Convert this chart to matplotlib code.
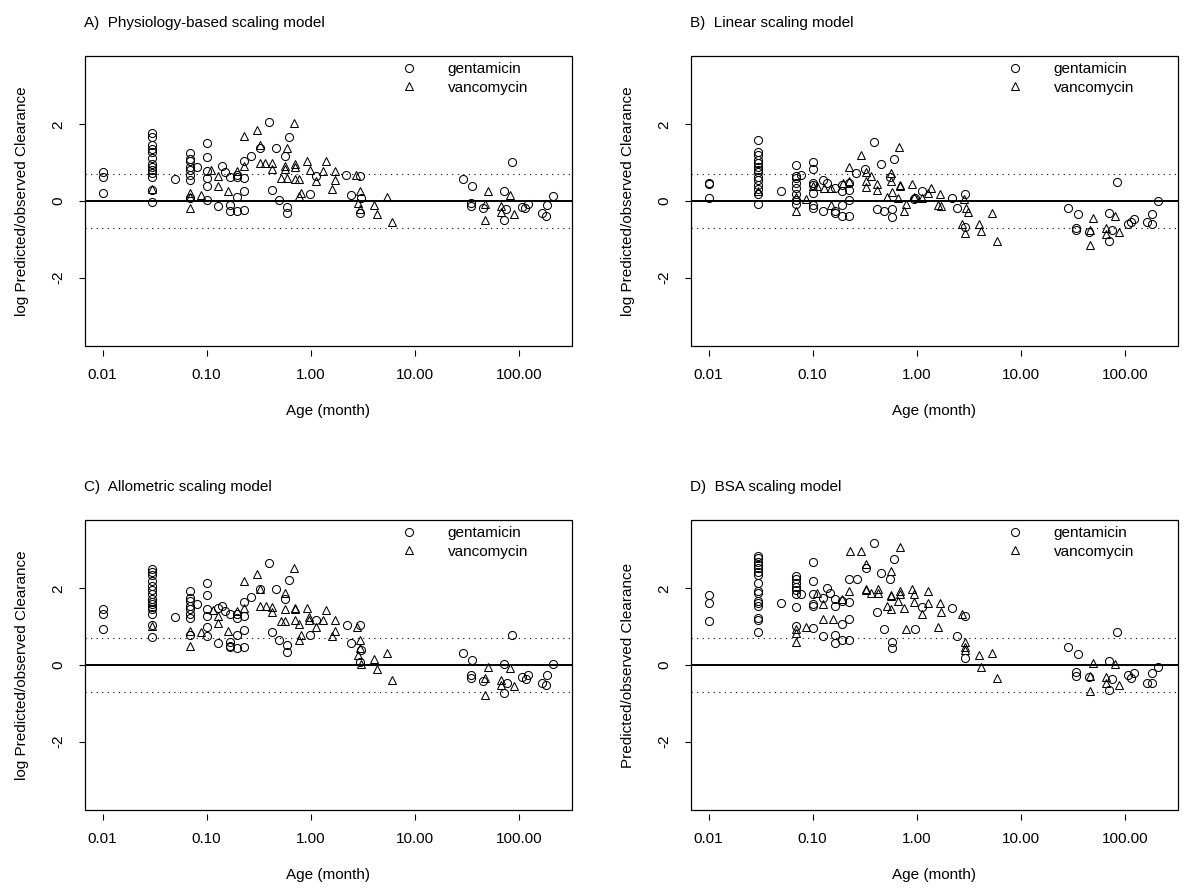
import numpy as np
import matplotlib
matplotlib.use("Agg")
import matplotlib.pyplot as plt
from matplotlib.patches import Rectangle

plt.rcParams['font.family'] = ['Liberation Sans', 'DejaVu Sans']
plt.rcParams['font.size'] = 11

# values: age in months, (log) predicted/observed clearance

# A) physiology-based
a_gen_age = [0.01, 0.01, 0.01,
             0.03, 0.03, 0.03, 0.03, 0.03, 0.03, 0.03, 0.03, 0.03, 0.03, 0.03, 0.03, 0.03,
             0.05,
             0.069, 0.069, 0.069, 0.069, 0.069, 0.069, 0.069, 0.069,
             0.08,
             0.1, 0.1, 0.1, 0.1, 0.1, 0.1,
             0.129, 0.139, 0.15, 0.169, 0.169, 0.169, 0.196, 0.196, 0.196, 0.196,
             0.228, 0.228, 0.228, 0.228, 0.269, 0.324, 0.394, 0.425, 0.468, 0.495, 0.57,
             0.591, 0.591, 0.614, 0.99, 1.13,
             2.19, 2.94, 2.45, 3.05, 2.94, 28.9, 35.5, 34.7, 34.7, 44.9, 71.3, 72.4, 75.1,
             85.1, 107, 115, 123, 165, 182, 185, 214]
a_gen_val = [0.75, 0.62, 0.20,
             1.78, 1.68, 1.47, 1.36, 1.29, 1.12, 0.97, 0.89, 0.82, 0.73, 0.62, 0.29, -0.02,
             0.57,
             1.25, 1.10, 1.03, 0.89, 0.82, 0.68, 0.55, 0.07,
             0.89,
             1.50, 1.14, 0.79, 0.60, 0.38, 0.03,
             -0.13, 0.90, 0.75, 0.62, -0.11, -0.25, 0.68, 0.62, 0.11, -0.25,
             1.05, 0.61, 0.25, -0.24, 1.17, 1.39, 2.07, 0.29, 1.37, 0.03, 1.17,
             -0.15, -0.32, 1.67, 0.18, 0.66,
             0.68, 0.66, 0.16, 0.07, -0.32, 0.57, 0.38, -0.06, -0.13, -0.17, 0.26, -0.50, -0.22,
             1.01, -0.15, -0.19, -0.09, -0.32, -0.39, -0.11, 0.13]
a_van_age = [0.03, 0.069, 0.069, 0.069, 0.089, 0.111, 0.129, 0.129, 0.161, 0.196, 0.228, 0.229,
             0.301, 0.324, 0.324, 0.361, 0.425, 0.425, 0.523, 0.57, 0.57, 0.591, 0.591, 0.69,
             0.701, 0.701, 0.701, 0.771, 0.771, 0.80, 0.927, 0.977, 1.13, 1.31, 1.41, 1.61, 1.72, 1.72,
             2.74, 2.99, 2.84, 2.99, 4.04, 4.35, 5.42, 6.05, 46.6, 46.6, 50.1, 67.3, 67.3, 82.0, 90.2]
a_van_val = [0.32, 0.22, 0.10, -0.19, 0.16, 0.82, 0.66, 0.40, 0.26, 0.77, 0.92, 1.69,
             1.84, 1.47, 0.99, 0.99, 0.99, 0.84, 0.60, 0.92, 0.83, 1.39, 0.60, 2.04,
             0.97, 0.89, 0.57, 0.57, 0.13, 0.22, 1.05, 0.82, 0.51, 0.79, 1.04, 0.32, 0.79, 0.55,
             0.68, 0.27, -0.04, -0.21, -0.11, -0.35, 0.11, -0.54, -0.08, -0.50, 0.25, -0.13, -0.28, 0.16, -0.34]

# B) linear
b_gen_age = [0.01, 0.01, 0.01,
             0.03, 0.03, 0.03, 0.03, 0.03, 0.03, 0.03, 0.03, 0.03, 0.03, 0.03, 0.03, 0.03, 0.03,
             0.05,
             0.069, 0.069, 0.069, 0.069, 0.069, 0.069, 0.069, 0.069,
             0.078,
             0.1, 0.1, 0.1, 0.1, 0.1, 0.1, 0.1,
             0.126, 0.126, 0.136, 0.163, 0.163, 0.163, 0.193, 0.193, 0.193, 0.193,
             0.224, 0.224, 0.224, 0.224, 0.259, 0.316, 0.389, 0.418, 0.457, 0.485, 0.55,
             0.578, 0.578, 0.605, 0.94, 0.965, 1.13,
             2.18, 2.43, 2.92, 2.88, 28.2, 35.2, 34.0, 34.0, 44.6, 69.8, 75.1, 70.8, 83.9,
             106, 114, 121, 163, 180, 182, 209]
b_gen_val = [0.46, 0.44, 0.09,
             1.59, 1.27, 1.19, 1.08, 0.99, 0.89, 0.82, 0.76, 0.62, 0.54, 0.43, 0.31, 0.18, -0.08,
             0.27,
             0.95, 0.66, 0.60, 0.46, 0.33, 0.18, 0.03, -0.09,
             0.68,
             1.01, 0.83, 0.48, 0.42, 0.20, -0.11, -0.17,
             0.55, -0.25, 0.46, 0.35, -0.25, -0.32, 0.42, 0.25, -0.11, -0.39,
             0.48, 0.29, 0.03, -0.39, 0.73, 0.84, 1.54, -0.22, 0.97, -0.25, 0.62,
             -0.22, -0.41, 1.10, 0.04, 0.09, 0.25,
             0.09, -0.19, 0.18, -0.68, -0.19, -0.35, -0.70, -0.75, -0.81, -0.32, -0.76, -1.04, 0.49,
             -0.59, -0.54, -0.47, -0.54, -0.59, -0.34, 0.01]
b_van_age = [0.03, 0.069, 0.069, 0.087, 0.1, 0.109, 0.128, 0.151, 0.151, 0.195, 0.224, 0.224,
             0.294, 0.324, 0.324, 0.324, 0.366, 0.416, 0.416, 0.518, 0.57, 0.57, 0.582, 0.661,
             0.676, 0.686, 0.686, 0.755, 0.794, 0.906, 0.94, 1.28,
             1.11, 1.38, 1.68, 1.60, 1.72, 2.82, 2.99, 3.10, 2.74, 2.92, 3.95, 4.16, 5.27, 5.93,
             46.2, 49.0, 45.6, 64.9, 65.8, 80.9, 88.3]
b_van_val = [0.25, 0.11, -0.25, 0.04, 0.38, 0.38, 0.35, 0.35, -0.11, 0.46, 0.89, 0.51,
             1.21, 0.75, 0.51, 0.36, 0.64, 0.44, 0.29, 0.11, 0.73, 0.51, 0.23, 0.09,
             1.41, 0.42, 0.38, -0.25, -0.09, 0.44, 0.11, 0.20,
             0.07, 0.33, 0.18, -0.11, -0.12, 0.04, -0.19, -0.28, -0.59, -0.83, -0.61, -0.78, -0.30, -1.03,
             -0.75, -0.44, -1.16, -0.70, -0.85, -0.39, -0.82]

# C) allometric
c_gen_age = [0.01, 0.01, 0.01,
             0.03, 0.03, 0.03, 0.03, 0.03, 0.03, 0.03, 0.03, 0.03, 0.03, 0.03, 0.03, 0.03, 0.03, 0.03,
             0.05,
             0.069, 0.069, 0.069, 0.069, 0.069, 0.069, 0.069, 0.069,
             0.08,
             0.1, 0.1, 0.1, 0.1, 0.1, 0.1,
             0.129, 0.129, 0.139, 0.15, 0.169, 0.169, 0.169, 0.169, 0.197, 0.197, 0.197, 0.197,
             0.229, 0.229, 0.229, 0.229, 0.269, 0.324, 0.394, 0.425, 0.468, 0.495, 0.57,
             0.591, 0.591, 0.614, 0.99, 1.13,
             2.23, 2.94, 2.45, 3.05, 2.94, 28.9, 35.5, 34.7, 34.7, 44.9, 71.3, 72.4, 76.2,
             85.1, 107, 117, 123, 165, 182, 185, 214]
c_gen_val = [1.45, 1.33, 0.95,
             2.50, 2.43, 2.34, 2.19, 2.06, 1.96, 1.84, 1.71, 1.65, 1.58, 1.52, 1.45, 1.34, 1.04, 0.73,
             1.25,
             1.93, 1.75, 1.67, 1.55, 1.45, 1.34, 1.23, 0.79,
             1.58,
             2.13, 1.82, 1.46, 1.27, 0.99, 0.75,
             0.57, 1.49, 1.54, 1.40, 1.32, 0.61, 0.50, 0.46, 1.32, 1.23, 0.79, 0.44,
             1.64, 1.27, 0.92, 0.46, 1.78, 1.97, 2.65, 0.85, 1.97, 0.66, 1.71,
             0.53, 0.35, 2.22, 0.79, 1.18,
             1.05, 1.03, 0.57, 0.39, 0.07, 0.32, 0.13, -0.26, -0.33, -0.41, 0.02, -0.73, -0.46,
             0.79, -0.32, -0.37, -0.26, -0.46, -0.51, -0.25, 0.02]
c_van_age = [0.03, 0.069, 0.069, 0.089, 0.115, 0.129, 0.129, 0.161, 0.197, 0.229, 0.229,
             0.301, 0.324, 0.324, 0.37, 0.425, 0.425, 0.523, 0.57, 0.57, 0.57, 0.69,
             0.701, 0.701, 0.701, 0.771, 0.771, 0.80, 0.927, 0.962, 0.962, 1.13, 1.31, 1.41, 1.61, 1.72, 1.72,
             2.78, 2.99, 2.99, 2.84, 3.05, 4.04, 4.35, 5.42, 6.05, 46.6, 46.6, 50.1, 67.3, 67.3, 82.6, 90.2]
c_van_val = [1.01, 0.88, 0.50, 0.85, 1.43, 1.29, 1.10, 0.88, 1.40, 1.49, 2.18,
             2.37, 1.97, 1.55, 1.55, 1.52, 1.38, 1.14, 1.87, 1.45, 1.14, 2.52,
             1.49, 1.45, 1.18, 1.08, 0.66, 0.79, 1.49, 1.25, 1.18, 0.99, 1.18, 1.43, 0.75, 1.18, 0.89,
             0.99, 0.66, 0.44, 0.26, 0.02, 0.15, -0.11, 0.31, -0.39, -0.33, -0.77, -0.04, -0.39, -0.53, -0.07, -0.55]

# D) BSA
d_gen_age = [0.01, 0.01, 0.01,
             0.03, 0.03, 0.03, 0.03, 0.03, 0.03, 0.03, 0.03, 0.03, 0.03, 0.03, 0.03, 0.03, 0.03, 0.03, 0.03,
             0.05,
             0.069, 0.069, 0.069, 0.069, 0.069, 0.069, 0.069, 0.069,
             0.078,
             0.1, 0.1, 0.1, 0.1, 0.1, 0.1,
             0.126, 0.126, 0.136, 0.146, 0.163, 0.163, 0.163, 0.163, 0.193, 0.193, 0.193,
             0.224, 0.224, 0.224, 0.224, 0.264, 0.324, 0.389, 0.418, 0.457, 0.485, 0.55,
             0.578, 0.578, 0.605, 0.96, 1.12,
             2.18, 2.43, 2.92, 2.92, 28.2, 35.2, 34.0, 34.0, 44.6, 69.8, 75.1, 70.8, 83.9,
             106, 114, 121, 163, 180, 182, 209]
d_gen_val = [1.82, 1.62, 1.14,
             2.85, 2.78, 2.69, 2.61, 2.52, 2.43, 2.34, 2.13, 1.93, 1.89, 1.68, 1.62, 1.55, 1.23, 1.18, 0.85,
             1.62,
             2.32, 2.24, 2.15, 2.04, 1.96, 1.84, 1.51, 1.01,
             1.86,
             2.68, 2.19, 1.84, 1.58, 1.55, 0.96,
             1.75, 0.76, 2.02, 1.87, 1.71, 1.54, 0.79, 0.57, 1.67, 1.07, 0.66,
             2.24, 1.64, 1.20, 0.66, 2.25, 2.52, 3.18, 1.38, 2.39, 0.94, 2.24,
             0.61, 0.44, 2.76, 0.94, 1.51,
             1.48, 0.75, 1.27, 0.18, 0.48, 0.28, -0.18, -0.29, -0.32, 0.11, -0.37, -0.64, 0.86,
             -0.26, -0.35, -0.20, -0.46, -0.46, -0.20, -0.04]
d_van_age = [0.069, 0.069, 0.069, 0.087, 0.109, 0.126, 0.126, 0.157, 0.193, 0.224, 0.228, 0.294,
             0.324, 0.324, 0.324, 0.366, 0.422, 0.422, 0.518, 0.57, 0.57, 0.57, 0.57, 0.661,
             0.686, 0.686, 0.686, 0.755, 0.783, 0.906, 0.95, 0.95, 1.11, 1.28, 1.28,
             1.60, 1.68, 1.72, 2.74, 2.88, 2.88, 2.88, 3.95, 4.16, 5.27, 5.93,
             46.2, 49.0, 45.6, 64.9, 65.8, 80.9, 88.3]
d_van_val = [0.95, 0.83, 0.60, 0.98, 1.87, 1.58, 1.20, 1.20, 1.73, 1.93, 2.96, 2.96,
             2.63, 1.97, 1.95, 1.87, 1.97, 1.87, 1.55, 2.46, 1.82, 1.80, 1.46, 1.67,
             3.07, 1.93, 1.84, 1.49, 0.95, 1.97, 1.84, 1.64, 1.32, 1.62, 1.93,
             0.99, 1.62, 1.38, 1.33, 0.59, 0.48, 0.39, 0.26, -0.04, 0.32, -0.35,
             -0.29, 0.06, -0.68, -0.31, -0.46, 0.02, -0.53]

titles = ["A)  Physiology-based scaling model", "B)  Linear scaling model",
          "C)  Allometric scaling model", "D)  BSA scaling model"]
ylabels = ["log Predicted/observed Clearance", "log Predicted/observed Clearance",
           "log Predicted/observed Clearance", "Predicted/observed Clearance"]
xticks = [0.01, 0.1, 1, 10, 100]
xtick_labels = ["0.01", "0.10", "1.00", "10.00", "100.00"]
yticks = [-2, 0, 2]

panels = [(a_gen_age, a_gen_val, a_van_age, a_van_val),
          (b_gen_age, b_gen_val, b_van_age, b_van_val),
          (c_gen_age, c_gen_val, c_van_age, c_van_val),
          (d_gen_age, d_gen_val, d_van_age, d_van_val)]

# x range like R: 4% padding on the log scale, same for all panels
all_ages = np.concatenate([np.array(p[0] + p[2], dtype=float) for p in panels])
lo, hi = np.log10(all_ages.min()), np.log10(all_ages.max())
pad = 0.04 * (hi - lo)

W, H = 1191, 894
fig = plt.figure(figsize=(W / 100, H / 100), dpi=100)

# panel boxes in pixels: left, top, right, bottom
boxes = [(84.5, 56, 571.5, 346), (690.5, 56, 1177.5, 346),
         (84.5, 520, 571.5, 810), (690.5, 520, 1177.5, 810)]

for i, (ga, gv, va, vv) in enumerate(panels):
    l, t, r, b = boxes[i]
    ax = fig.add_axes([l / W, 1 - b / H, (r - l) / W, (b - t) / H])

    ax.plot(ga, gv, 'o', mfc='none', mec='black', ms=5.8, mew=0.75, label='gentamicin')
    ax.plot(va, vv, '^', mfc='none', mec='black', ms=5.8, mew=0.75, label='vancomycin')

    ax.axhline(0, color='black', lw=1.4)
    ax.axhline(np.log(2), color='black', lw=0.8, linestyle=(0, (1, 4)))
    ax.axhline(-np.log(2), color='black', lw=0.8, linestyle=(0, (1, 4)))

    ax.set_xscale('log')
    ax.set_xlim(10 ** (lo - pad), 10 ** (hi + pad))
    ax.set_ylim(-3.78, 3.78)
    ax.set_xticks(xticks)
    ax.set_xticklabels(xtick_labels)
    ax.minorticks_off()
    ax.set_yticks(yticks)
    ax.set_yticklabels([str(v) for v in yticks])

    # box drawn separately so the x ticks can sit a little below it
    for s in ax.spines.values():
        s.set_visible(False)
    ax.spines['bottom'].set_position(('outward', 3))
    ax.add_patch(Rectangle((0, 0), 1, 1, transform=ax.transAxes, fill=False,
                           lw=0.9, edgecolor='black', clip_on=False, zorder=5))
    ax.tick_params(axis='x', direction='out', length=4, width=0.8, pad=9)
    ax.tick_params(axis='y', direction='out', length=4, width=0.8, pad=10, labelrotation=90)
    for lbl in ax.get_yticklabels():
        lbl.set_va('center')

    ax.set_xlabel('Age (month)')
    ax.xaxis.set_label_coords(0.5, -0.225)
    ax.xaxis.label.set_va('center')
    ax.set_ylabel(ylabels[i])
    ax.yaxis.set_label_coords(-0.129, 0.5)
    ax.yaxis.label.set_va('center')

    ax.text(0, 1.1, titles[i], transform=ax.transAxes, ha='left', va='baseline')

    ax.legend(loc='upper left', bbox_to_anchor=(0.623, 1.0), frameon=False, borderaxespad=0,
              handletextpad=1.5, labelspacing=0.3, handlelength=2, borderpad=0.4, numpoints=1)

fig.savefig('out.png', dpi=100)
